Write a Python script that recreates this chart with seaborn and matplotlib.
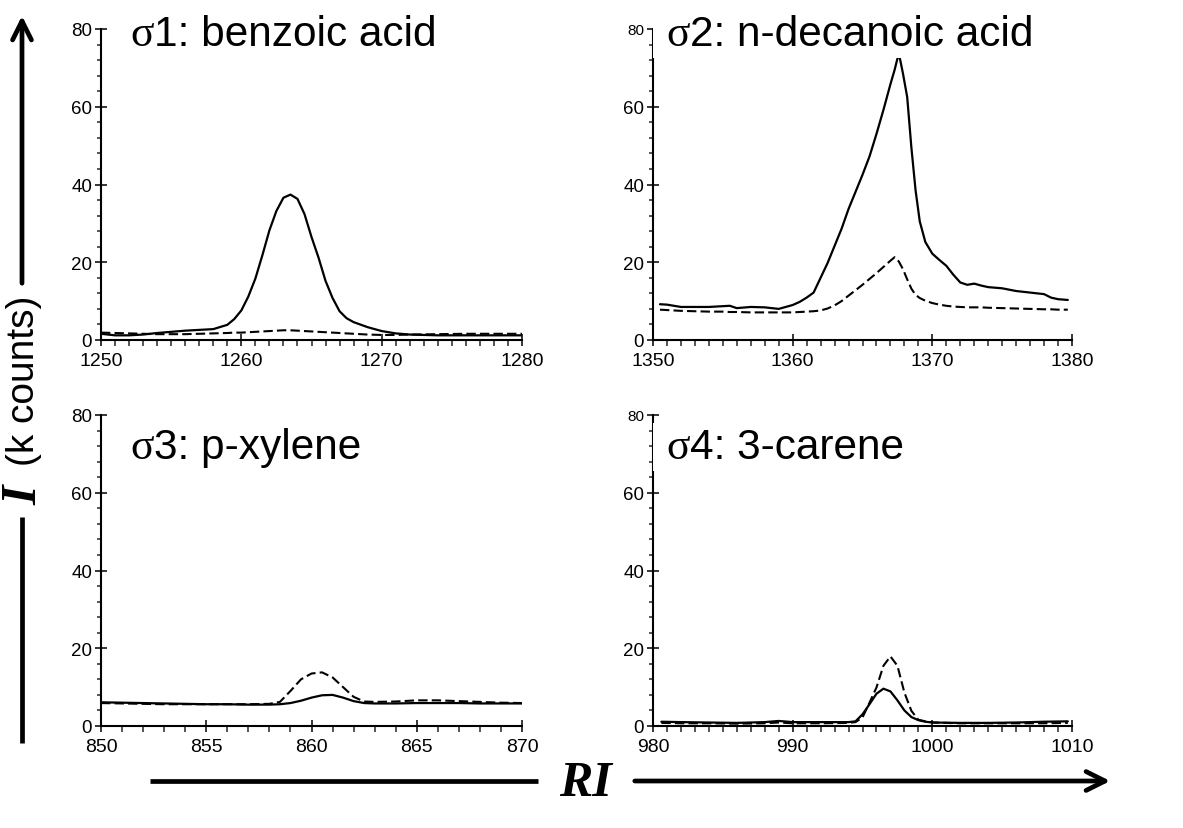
import matplotlib
matplotlib.use("Agg")
import matplotlib.pyplot as plt
import seaborn as sns
from matplotlib.ticker import MultipleLocator
from matplotlib.offsetbox import TextArea, HPacker, AnnotationBbox, DrawingArea
from matplotlib.patches import FancyArrowPatch
from matplotlib.lines import Line2D

# ---- retention index (RI) axes and intensities (k counts) ----
ri_benzoic = [1250, 1251, 1252, 1253, 1254, 1255, 1256, 1257, 1258, 1259,
              1259.5, 1260, 1260.5, 1261, 1261.5, 1262, 1262.5, 1263, 1263.5, 1264,
              1264.5, 1265, 1265.5, 1266, 1266.5, 1267, 1267.5, 1268, 1269, 1270,
              1271, 1272, 1274, 1276, 1278, 1280]
benzoic_solid = [1.6, 1.2, 1.2, 1.4, 1.8, 2.1, 2.4, 2.6, 2.8, 3.9,
                 5.4, 7.6, 11.2, 15.8, 21.8, 28.2, 33.2, 36.6, 37.4, 36.3,
                 32.4, 26.5, 21.2, 15.2, 10.8, 7.4, 5.6, 4.6, 3.3, 2.3,
                 1.7, 1.4, 1.2, 1.2, 1.2, 1.2]
benzoic_dashed = [1.9, 1.8, 1.7, 1.6, 1.5, 1.5, 1.5, 1.6, 1.7, 1.8,
                  1.9, 1.9, 2.0, 2.1, 2.2, 2.3, 2.4, 2.5, 2.5, 2.4,
                  2.3, 2.2, 2.1, 2.0, 1.9, 1.8, 1.7, 1.6, 1.4, 1.3,
                  1.3, 1.4, 1.5, 1.6, 1.6, 1.6]

ri_decanoic = [1350.5, 1351, 1352, 1353, 1354, 1355, 1355.5, 1356, 1357, 1358,
               1359, 1360, 1360.5, 1361, 1361.5, 1362, 1362.5, 1363, 1363.5, 1364,
               1364.5, 1365, 1365.5, 1366, 1366.5, 1367, 1367.3, 1367.6, 1367.9, 1368.2,
               1368.5, 1368.8, 1369.1, 1369.5, 1370, 1370.5, 1371, 1371.5, 1372, 1372.5,
               1373, 1373.5, 1374, 1375, 1376, 1377, 1378, 1378.5, 1379, 1379.7]
decanoic_solid = [9.2, 9.1, 8.5, 8.5, 8.5, 8.7, 8.8, 8.2, 8.5, 8.4,
                  8.0, 9.0, 9.8, 10.9, 12.2, 16.0, 19.8, 24.2, 28.6, 33.7,
                  38.1, 42.5, 47.2, 53.0, 59.2, 65.8, 69.5, 73.8, 68.5, 62.5,
                  49.5, 38.5, 30.5, 25.2, 22.2, 20.6, 19.1, 16.8, 14.8, 14.2,
                  14.5, 14.0, 13.6, 13.3, 12.6, 12.2, 11.8, 10.9, 10.5, 10.3]
decanoic_dashed = [7.8, 7.7, 7.5, 7.4, 7.3, 7.3, 7.2, 7.2, 7.1, 7.1,
                   7.1, 7.1, 7.2, 7.3, 7.4, 7.6, 8.1, 8.9, 10.0, 11.4,
                   12.8, 14.2, 15.7, 17.2, 18.8, 20.4, 21.3, 20.2, 18.2, 15.6,
                   13.2, 11.6, 10.8, 10.1, 9.5, 9.1, 8.8, 8.6, 8.5, 8.4,
                   8.4, 8.4, 8.3, 8.2, 8.1, 8.0, 7.9, 7.9, 7.8, 7.8]

ri_xylene = [850, 851, 852, 853, 854, 855, 856, 857, 858, 858.5,
             859, 859.5, 860, 860.5, 861, 861.5, 862, 862.5, 863, 864,
             865, 866, 867, 868, 869, 870]
xylene_solid = [6.1, 6.0, 5.9, 5.8, 5.7, 5.6, 5.6, 5.5, 5.5, 5.6,
                5.9, 6.5, 7.3, 7.9, 8.0, 7.3, 6.4, 5.9, 5.8, 5.8,
                5.9, 5.9, 5.9, 5.8, 5.8, 5.8]
xylene_dashed = [5.9, 5.8, 5.7, 5.6, 5.6, 5.6, 5.6, 5.6, 5.7, 6.2,
                 9.0, 12.0, 13.5, 13.8, 12.5, 10.0, 7.5, 6.3, 6.2, 6.3,
                 6.6, 6.6, 6.4, 6.2, 6.0, 5.9]

ri_carene = [980.6, 982, 984, 986, 988, 989, 990, 992, 994, 994.5,
             995, 995.5, 996, 996.5, 997, 997.5, 998, 998.5, 999, 999.5,
             1000, 1002, 1004, 1006, 1008, 1009.7]
carene_solid = [1.1, 1.0, 0.9, 0.8, 1.0, 1.3, 1.0, 1.0, 1.0, 1.2,
                3.0, 5.6, 8.3, 9.6, 8.9, 6.6, 4.0, 2.3, 1.5, 1.1,
                0.9, 0.8, 0.8, 0.9, 1.1, 1.2]
carene_dashed = [0.8, 0.7, 0.7, 0.6, 0.7, 0.9, 0.7, 0.7, 0.8, 1.0,
                 2.2, 6.0, 9.9, 15.5, 17.9, 15.5, 8.6, 3.9, 1.6, 1.2,
                 0.9, 0.7, 0.7, 0.7, 0.7, 0.8]

panel_names = ["1: benzoic acid", "2: n-decanoic acid", "3: p-xylene", "4: 3-carene"]
ri_ranges = [(1250, 1280), (1350, 1380), (850, 870), (980, 1010)]
ri_steps = [10, 10, 5, 10]
y_ticks = [0, 20, 40, 60, 80]

# ---- figure geometry (pixels) ----
W, H = 1183, 829
fig = plt.figure(figsize=(W / 100, H / 100), dpi=100)
sns.set_style("ticks")
plt.rcParams["font.family"] = ["Liberation Sans", "DejaVu Sans"]

boxes = [(101, 522, 30, 341), (653, 1072, 30, 341),
         (101, 522, 416, 727), (653, 1072, 416, 727)]
# left edge of the title text and its baseline
title_pos = [(130, 46), (666, 46), (130, 459), (666, 459)]
TITLE_PT = 30.5
SPACER_PX = 9
BOX_PAD_PX = 5

series = [(ri_benzoic, benzoic_solid, benzoic_dashed),
          (ri_decanoic, decanoic_solid, decanoic_dashed),
          (ri_xylene, xylene_solid, xylene_dashed),
          (ri_carene, carene_solid, carene_dashed)]


def px_rect(l, r, t, b):
    return [l / W, 1 - b / H, (r - l) / W, (b - t) / H]


for i, ((x, s, d), box) in enumerate(zip(series, boxes)):
    ax = fig.add_axes(px_rect(*box))
    sns.lineplot(x=x, y=d, ax=ax, color="black", lw=1.5, estimator=None, sort=False)
    ax.lines[-1].set_dashes([4.5, 2.0])
    sns.lineplot(x=x, y=s, ax=ax, color="black", lw=1.6, estimator=None, sort=False)

    ax.set_xlim(*ri_ranges[i])
    ax.set_ylim(0, 80)
    ax.xaxis.set_major_locator(MultipleLocator(ri_steps[i]))
    ax.xaxis.set_minor_locator(MultipleLocator(1))
    ax.set_yticks(y_ticks)
    ax.yaxis.set_minor_locator(MultipleLocator(4))
    ax.set_xlabel("")
    ax.set_ylabel("")
    sns.despine(ax=ax)
    for sp in ("left", "bottom"):
        ax.spines[sp].set_linewidth(1.5)
        ax.spines[sp].set_color("black")
    ax.tick_params(which="major", direction="inout", length=8.6, width=1.1,
                   color="black", labelcolor="black")
    ax.tick_params(axis="x", which="major", labelsize=14, pad=4)
    ax.tick_params(axis="y", which="major", labelsize=13.5, pad=2)
    ax.tick_params(axis="x", which="minor", direction="out", length=4.3, width=1.1)
    ax.tick_params(axis="y", which="minor", direction="out", length=3.2, width=1.1)
    if i in (1, 3):
        ax.get_yticklabels()[-1].set_fontsize(11)

    # panel title: serif sigma followed by the compound name, on a white plate
    tx, ty = title_pos[i]
    descent = 0.212 * TITLE_PT * 100 / 72
    packer = HPacker(children=[
        DrawingArea(SPACER_PX * 0.72, 1),
        TextArea("σ", textprops=dict(family="Liberation Serif", size=TITLE_PT + 1, color="black")),
        TextArea(panel_names[i], textprops=dict(family="Liberation Sans", size=TITLE_PT, color="black")),
    ], align="baseline", pad=0, sep=0)
    ab = AnnotationBbox(packer, (tx - SPACER_PX, H - ty - descent), xycoords="figure pixels",
                        box_alignment=(0, 0), frameon=True,
                        pad=BOX_PAD_PX / (10 * 100 / 72), fontsize=10,
                        bboxprops=dict(boxstyle="square", facecolor="white", edgecolor="none"),
                        zorder=5)
    fig.add_artist(ab)


def fx(px):
    return px / W


def fy(py):
    return 1 - py / H


ARROW_LW = 3.4
HEAD = "->,head_length=0.4,head_width=0.2"

# vertical intensity arrow with its label
fig.add_artist(FancyArrowPatch((fx(22), fy(287)), (fx(22), fy(14)), transform=fig.transFigure,
                               arrowstyle=HEAD, mutation_scale=34, lw=ARROW_LW, color="black"))
fig.add_artist(Line2D([fx(22), fx(22)], [fy(518), fy(744)], transform=fig.transFigure,
                      lw=ARROW_LW, color="black", solid_capstyle="butt"))
fig.text(fx(24), fy(381), "(k counts)", rotation=90, ha="center", va="center",
         family="Liberation Sans", size=28, color="black")
fig.text(fx(24), fy(495), "I", rotation=90, ha="center", va="center",
         family="Liberation Serif", weight="bold", style="italic", size=36, color="black")

# horizontal retention-index arrow with its label
arrow_y = 782
fig.add_artist(Line2D([fx(150), fx(538)], [fy(arrow_y), fy(arrow_y)], transform=fig.transFigure,
                      lw=ARROW_LW, color="black", solid_capstyle="butt"))
fig.add_artist(FancyArrowPatch((fx(632), fy(arrow_y)), (fx(1113), fy(arrow_y)), transform=fig.transFigure,
                               arrowstyle=HEAD, mutation_scale=34, lw=ARROW_LW, color="black"))
fig.text(fx(586), fy(arrow_y + 2), "RI", ha="center", va="center",
         family="Liberation Serif", weight="bold", style="italic", size=36, color="black")

fig.savefig("out.png", dpi=100, facecolor="white")
